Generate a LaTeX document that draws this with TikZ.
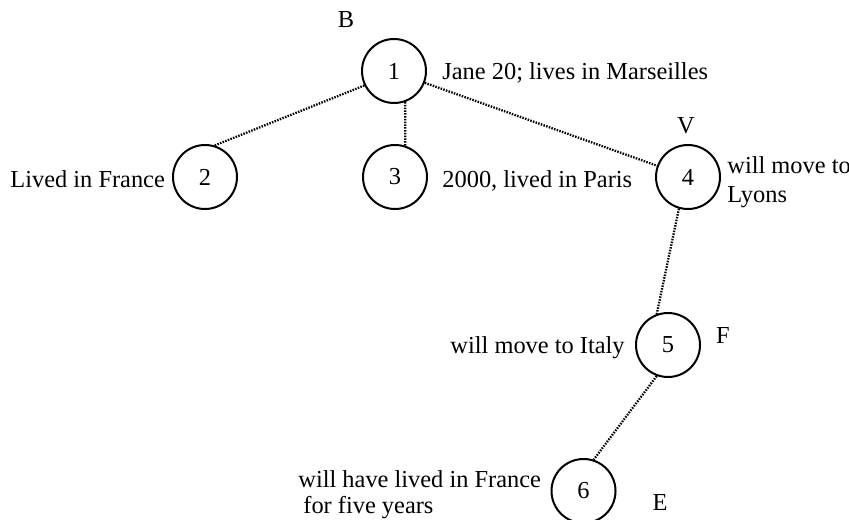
\documentclass[tikz,border=0pt]{standalone}
\usepackage{fontspec}
\setmainfont{Liberation Serif}
\begin{document}
\begin{tikzpicture}[x=0.5pt,y=-0.5pt,
  state/.style={circle,draw,line width=1pt,minimum size=32pt,inner sep=0pt,font=\fontsize{12.2}{14}\selectfont},
  lbl/.style={inner sep=0pt,font=\fontsize{12.2}{14}\selectfont},
  link/.style={line width=1.15pt,dash pattern=on 0.75pt off 0.65pt}]
\useasboundingbox (0,0) rectangle (849,519);
% states
\node[state] (n1) at (394,71) {1};
\node[state] (n2) at (205,177) {2};
\node[state] (n3) at (395,177) {3};
\node[state] (n4) at (688,177) {4};
\node[state] (n5) at (668,345) {5};
\node[state] (n6) at (583.5,491) {6};
% connectors
\draw[link] (n1.206) -- (n2.73);
\draw[link] (n1.290) -- (n3.72);
\draw[link] (n1.339) -- (n4.160);
\draw[link] (n4.254) -- (n5.110);
\draw[link] (n5.250) -- (n6.72);
% labels
\node[lbl,anchor=base] (lB) at (346,28) {B};
\node[lbl,anchor=base west] (l1) at (442,80) {Jane 20; lives in Marseilles};
\node[lbl,anchor=base west] (l2) at (10,187) {Lived in France};
\node[lbl,anchor=base west] (l3) at (442,187) {2000, lived in Paris};
\node[lbl,anchor=base] (lV) at (686,133) {V};
\node[lbl,anchor=base west] (l4a) at (727,173) {will move to};
\node[lbl,anchor=base west] (l4b) at (727,202) {Lyons};
\node[lbl,anchor=base east] (l5) at (625,353) {will move to Italy};
\node[lbl,anchor=base] (lF) at (723,343) {F};
\node[lbl,anchor=base west] (l6a) at (298,487) {will have lived in France};
\node[lbl,anchor=base west] (l6b) at (303,513) {for five years};
\node[lbl,anchor=base] (lE) at (660,510) {E};
\end{tikzpicture}
\end{document}
